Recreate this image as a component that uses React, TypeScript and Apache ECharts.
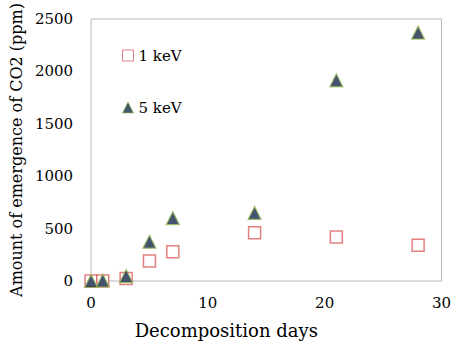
import React, { useEffect, useRef } from "react";
import * as echarts from "echarts";

const days = [0, 1, 3, 5, 7, 14, 21, 28];
const kev1 = [0, 0, 25, 190, 280, 460, 420, 340];
const kev5 = [0, 5, 47, 375, 600, 650, 1915, 2370];
const seriesNames = ["1 keV", "5 keV"];
const xTitle = "Decomposition days";
const yTitle = "Amount of emergence of CO2 (ppm)";

const FONT = "'DejaVu Serif', 'Liberation Serif', serif";

export default function App() {
  const ref = useRef<HTMLDivElement>(null);
  useEffect(() => {
    if (!ref.current) return;
    const chart = echarts.init(ref.current, undefined, { renderer: "svg" });
    const toPairs = (ys: number[]) => days.map((d, i) => [d, ys[i]]);
    chart.setOption({
      animation: false,
      backgroundColor: "#ffffff",
      textStyle: { fontFamily: FONT, color: "#000" },
      grid: {
        left: 90,
        right: 12,
        top: 19,
        bottom: 61,
        show: true,
        borderColor: "#b8b8b8",
        borderWidth: 1,
      },
      legend: {
        left: 117,
        top: 43,
        orient: "vertical",
        itemGap: 37,
        itemWidth: 11,
        itemHeight: 11,
        itemStyle: { borderWidth: 1 },
        textStyle: { fontFamily: FONT, fontSize: 15, color: "#000" },
        data: seriesNames,
      },
      xAxis: {
        type: "value",
        min: 0,
        max: 30,
        interval: 10,
        axisLine: { show: false },
        axisTick: { show: false },
        splitLine: { show: false },
        axisLabel: { fontFamily: FONT, fontSize: 15, color: "#000", margin: 14 },
        name: xTitle,
        nameLocation: "middle",
        nameGap: 40,
        nameTextStyle: {
          fontFamily: FONT,
          fontSize: 18,
          color: "#000",
          padding: [0, 80, 0, 0],
        },
      },
      yAxis: {
        type: "value",
        min: 0,
        max: 2500,
        interval: 500,
        axisLine: { show: false },
        axisTick: { show: false },
        splitLine: { show: false },
        axisLabel: {
          fontFamily: FONT,
          fontSize: 15,
          color: "#000",
          margin: 18,
          formatter: (v: number) => String(v),
        },
        name: yTitle,
        nameLocation: "middle",
        nameGap: 56,
        nameTextStyle: { fontFamily: FONT, fontSize: 16, color: "#000" },
      },
      series: [
        {
          name: seriesNames[0],
          type: "scatter",
          data: toPairs(kev1),
          symbol: "rect",
          symbolSize: 12,
          itemStyle: { color: "#ffffff", borderColor: "#d9605f", borderWidth: 1.5 },
          z: 2,
        },
        {
          name: seriesNames[1],
          type: "scatter",
          data: toPairs(kev5),
          symbol: "triangle",
          symbolSize: 13,
          itemStyle: { color: "#15294a", borderColor: "#9bbb59", borderWidth: 1.2 },
          z: 3,
        },
      ],
    });
    return () => chart.dispose();
  }, []);
  return (
    <div
      ref={ref}
      style={{ position: "fixed", left: 0, top: 0, width: 454, height: 344 }}
    />
  );
}
